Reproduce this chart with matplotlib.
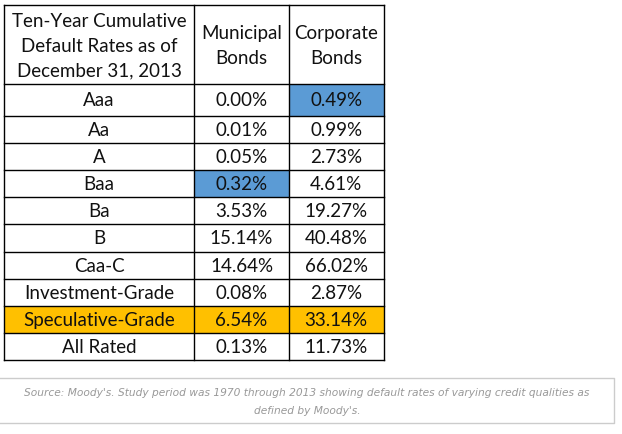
import matplotlib
matplotlib.use("Agg")
import matplotlib.pyplot as plt
from matplotlib.patches import Rectangle

# ---- data ----
header = ["Ten-Year Cumulative\nDefault Rates as of\nDecember 31, 2013",
          "Municipal\nBonds", "Corporate\nBonds"]
ratings = ["Aaa", "Aa", "A", "Baa", "Ba", "B", "Caa-C",
           "Investment-Grade", "Speculative-Grade", "All Rated"]
municipal = [0.00, 0.01, 0.05, 0.32, 3.53, 15.14, 14.64, 0.08, 6.54, 0.13]
corporate = [0.49, 0.99, 2.73, 4.61, 19.27, 40.48, 66.02, 2.87, 33.14, 11.73]
caption = ("Source: Moody's. Study period was 1970 through 2013 showing default rates of varying credit qualities as\n"
           "defined by Moody's.")

# highlights: (row index, column index) -> colour
blue_cells = [(0, 2), (3, 1)]
orange_rows = [8]

BLUE = "#5b9bd5"
ORANGE = "#ffc000"

W, H = 622, 434
fig = plt.figure(figsize=(W / 100, H / 100), dpi=100)
ax = fig.add_axes([0, 0, 1, 1])
ax.set_xlim(0, W)
ax.set_ylim(H, 0)
ax.axis("off")

col_x = [4, 194, 289, 383.5]
row_y = [5, 84, 116] + [116 + 27.1 * i for i in range(1, 10)]

font = "Lato"
fs = 13.5

# header
for j, txt in enumerate(header):
    cx = (col_x[j] + col_x[j + 1]) / 2
    ax.text(cx, (row_y[0] + row_y[1]) / 2 + 1.5, txt, ha="center", va="center",
            fontsize=fs, family=font, linespacing=1.55, color="#111111")

# body
for i, r in enumerate(ratings):
    y0, y1 = row_y[i + 1], row_y[i + 2]
    vals = [r, f"{municipal[i]:.2f}%", f"{corporate[i]:.2f}%"]
    for j, v in enumerate(vals):
        x0, x1 = col_x[j], col_x[j + 1]
        color = None
        if i in orange_rows:
            color = ORANGE
        if (i, j) in blue_cells:
            color = BLUE
        if color:
            ax.add_patch(Rectangle((x0, y0), x1 - x0, y1 - y0, facecolor=color,
                                   edgecolor="none", zorder=1))
        ax.text((x0 + x1) / 2, (y0 + y1) / 2 + 1, v, ha="center", va="center",
                fontsize=fs, family=font, color="#111111", zorder=3)

# grid lines
lw = 1.0
for y in row_y:
    ax.plot([col_x[0], col_x[-1]], [y, y], color="black", lw=lw, zorder=2)
for x in col_x:
    ax.plot([x, x], [row_y[0], row_y[-1]], color="black", lw=lw, zorder=2)

# caption box
ax.plot([0, 614, 614, 0], [378, 378, 423, 423], color="#cccccc", lw=1.0)
ax.text(307, 402, caption, ha="center", va="center", fontsize=7.7,
        family="DejaVu Sans", style="italic", color="#999999", linespacing=2.1)

fig.savefig("out.png", dpi=100)
